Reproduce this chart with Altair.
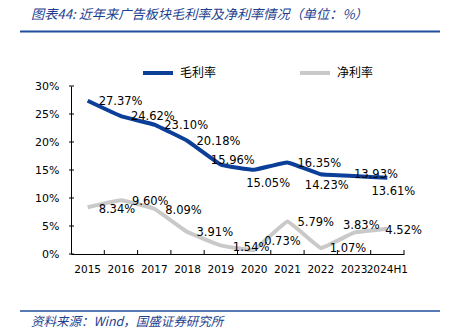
import altair as alt
import pandas as pd

years = ["2015", "2016", "2017", "2018", "2019", "2020", "2021", "2022", "2023", "2024H1"]
gross = [27.37, 24.62, 23.10, 20.18, 15.96, 15.05, 16.35, 14.23, 13.93, 13.61]
net = [8.34, 9.60, 8.09, 3.91, 1.54, 0.73, 5.79, 1.07, 3.83, 4.52]
series_names = ["毛利率", "净利率"]
y_ticks = [0, 5, 10, 15, 20, 25, 30]
title_text = "图表44:  近年来广告板块毛利率及净利率情况（单位：%）"
source_text = "资料来源：Wind，国盛证券研究所"

# label placement styles (align, dx, dy) per point
gross_lbl = [("left", 11, 1), ("left", 10, 1), ("left", 10, 1), ("left", 9, 1), ("left", -10, -4),
             ("center", 14, 14), ("left", 10, 2), ("center", 6, 12), ("left", 0, -1), ("center", 6, 14)]
net_lbl = [("left", 11, 3), ("left", 11, 2), ("left", 11, 2), ("left", 9, 1), ("left", 12, 3),
           ("left", 10, -8), ("left", 10, 1), ("left", 9, 1), ("left", -11, -7), ("left", -2, 2)]

W, H = 333, 168
BLUE = "#0c3f98"
GREY = "#c9c9c9"
FONT = "DejaVu Sans"
CJK = "Noto Sans CJK SC"

rows = []
for i, yr in enumerate(years):
    rows.append({"year": yr, "series": series_names[0], "value": gross[i], "idx": i,
                 "label": f"{gross[i]:.2f}%"})
    rows.append({"year": yr, "series": series_names[1], "value": net[i], "idx": i,
                 "label": f"{net[i]:.2f}%"})
df = pd.DataFrame(rows)

xscale = alt.Scale(domain=years, paddingInner=0, paddingOuter=0)
yscale = alt.Scale(domain=[0, 30], nice=False)

xaxis = alt.Axis(title=None, labelAngle=0, ticks=False, domainColor="black",
                 labelFont=FONT, labelFontSize=10.5, labelColor="black",
                 labelPadding=10, domainWidth=1, labelOverlap=False)
yaxis = alt.Axis(title=None, values=y_ticks, labelExpr="datum.value + '%'",
                 ticks=False, grid=False, domainColor="black", domainWidth=1,
                 labelFont=FONT, labelFontSize=11, labelColor="black", labelPadding=12,
                 labelOverlap=False)

def X(**kw):
    return alt.X("year:N", scale=xscale, sort=years, axis=xaxis, **kw)

def Y():
    return alt.Y("value:Q", scale=yscale, axis=yaxis)

base = alt.Chart(df)

lines = base.mark_line(strokeWidth=4, interpolate="cardinal", tension=0.75, strokeJoin="round").encode(
    x=X(),
    y=Y(),
    color=alt.Color("series:N", scale=alt.Scale(domain=series_names, range=[BLUE, GREY]),
                    legend=alt.Legend(title=None, orient="none", direction="horizontal",
                                      legendX=70, legendY=-30, symbolType="stroke",
                                      symbolSize=900, symbolStrokeWidth=4,
                                      labelFont=CJK, labelFontSize=12, labelColor="black",
                                      columnPadding=75, labelOffset=5, padding=0)),
    detail="series:N",
)

# title underline and source rule drawn first as thin rects
top_line = alt.Chart(pd.DataFrame({"k": ["top"]})).mark_rect(color="#1f4e9c").encode(
    x=alt.value(-51), x2=alt.value(369), y=alt.value(-55.5), y2=alt.value(-53.5))
bottom_line = alt.Chart(pd.DataFrame({"k": ["bottom"]})).mark_rect(color="#1f4e9c").encode(
    x=alt.value(-51), x2=alt.value(369), y=alt.value(224.2), y2=alt.value(225.8))

layers = [top_line, bottom_line, lines]

# data labels grouped by style
groups = {}
for s_name, styles in ((series_names[0], gross_lbl), (series_names[1], net_lbl)):
    for i, st in enumerate(styles):
        groups.setdefault(st, []).append((s_name, i))

for (align, dx, dy), members in groups.items():
    cond = " || ".join(f"(datum.series == '{s}' && datum.idx == {i})" for s, i in members)
    layers.append(
        base.transform_filter(cond).mark_text(
            align=align, baseline="middle", dx=dx, dy=dy, font=FONT, fontSize=11.5, color="black"
        ).encode(x=X(), y=Y(), text="label:N")
    )

# inward ticks
ytdf = pd.DataFrame({"value": y_ticks})
layers.append(alt.Chart(ytdf).mark_rule(color="black", strokeWidth=1).encode(
    y=Y(), x=alt.value(-2), x2=alt.value(3)))
xtdf = pd.DataFrame({"year": years})
layers.append(alt.Chart(xtdf).mark_rule(color="black", strokeWidth=1).encode(
    x=X(bandPosition=1), y=alt.value(H - 4), y2=alt.value(H)))

# title and source
tdf = pd.DataFrame({"t": [title_text]})
layers.append(alt.Chart(tdf).mark_text(align="left", baseline="middle", font=CJK, fontSize=13.2,
                                       fontStyle="italic", color="#1d3f8f").encode(
    x=alt.value(-40), y=alt.value(-71), text="t:N"))
sdf = pd.DataFrame({"t": [source_text]})
layers.append(alt.Chart(sdf).mark_text(align="left", baseline="middle", font=CJK, fontSize=12.5,
                                       fontStyle="italic", color="#1d3f8f").encode(
    x=alt.value(-40), y=alt.value(236), text="t:N"))

chart = alt.layer(*layers).properties(
    width=W, height=H,
    padding={"left": 71, "top": 86, "right": 45, "bottom": 80},
    autosize=alt.AutoSizeParams(type="none"),
    background="white",
).configure_view(stroke=None)

chart.save("out.html", embed_options={"renderer": "svg", "actions": False})
